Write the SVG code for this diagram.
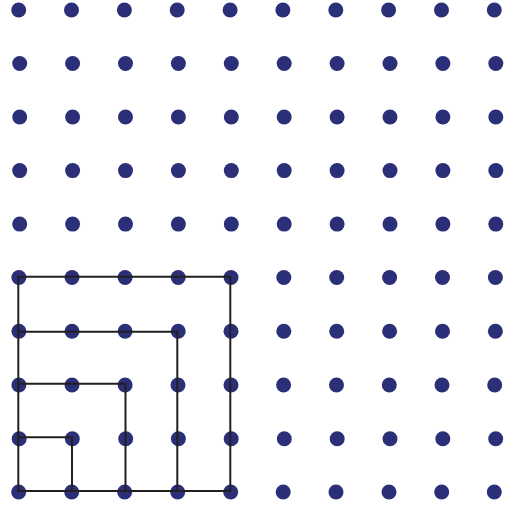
<svg xmlns="http://www.w3.org/2000/svg" width="507" height="510" viewBox="0 0 507 510">
<style>
.d{fill:#2a2f78}
.l{fill:none;stroke:#231f20;stroke-width:2}
</style>
<defs>
<circle id="c" r="7.5" class="d"/>
</defs>
<rect width="507" height="510" fill="#fff"/>
<g id="dots">
<g id="row0"><use href="#c" x="18.7" y="10"/><use href="#c" x="71.5" y="10"/><use href="#c" x="124.4" y="10"/><use href="#c" x="177.2" y="10"/><use href="#c" x="230.1" y="10"/><use href="#c" x="282.9" y="10"/><use href="#c" x="335.8" y="10"/><use href="#c" x="388.6" y="10"/><use href="#c" x="441.5" y="10"/><use href="#c" x="494.3" y="10"/></g>
<g id="row1"><use href="#c" x="19.7" y="63.5"/><use href="#c" x="72.6" y="63.5"/><use href="#c" x="125.5" y="63.5"/><use href="#c" x="178.4" y="63.5"/><use href="#c" x="231.3" y="63.5"/><use href="#c" x="284.2" y="63.5"/><use href="#c" x="337.1" y="63.5"/><use href="#c" x="390" y="63.5"/><use href="#c" x="442.9" y="63.5"/><use href="#c" x="495.8" y="63.5"/></g>
<g id="row2"><use href="#c" x="19.7" y="117"/><use href="#c" x="72.6" y="117"/><use href="#c" x="125.5" y="117"/><use href="#c" x="178.4" y="117"/><use href="#c" x="231.3" y="117"/><use href="#c" x="284.2" y="117"/><use href="#c" x="337.1" y="117"/><use href="#c" x="390" y="117"/><use href="#c" x="442.9" y="117"/><use href="#c" x="495.8" y="117"/></g>
<g id="row3"><use href="#c" x="19.7" y="170.6"/><use href="#c" x="72.6" y="170.6"/><use href="#c" x="125.5" y="170.6"/><use href="#c" x="178.4" y="170.6"/><use href="#c" x="231.3" y="170.6"/><use href="#c" x="284.2" y="170.6"/><use href="#c" x="337.1" y="170.6"/><use href="#c" x="390" y="170.6"/><use href="#c" x="442.9" y="170.6"/><use href="#c" x="495.8" y="170.6"/></g>
<g id="row4"><use href="#c" x="19.7" y="224.1"/><use href="#c" x="72.6" y="224.1"/><use href="#c" x="125.5" y="224.1"/><use href="#c" x="178.4" y="224.1"/><use href="#c" x="231.3" y="224.1"/><use href="#c" x="284.2" y="224.1"/><use href="#c" x="337.1" y="224.1"/><use href="#c" x="390" y="224.1"/><use href="#c" x="442.9" y="224.1"/><use href="#c" x="495.8" y="224.1"/></g>
<g id="row5"><use href="#c" x="18.9" y="277.5"/><use href="#c" x="72" y="277.5"/><use href="#c" x="125.1" y="277.5"/><use href="#c" x="178.2" y="277.5"/><use href="#c" x="231" y="277.5"/><use href="#c" x="283.8" y="277.5"/><use href="#c" x="336.7" y="277.5"/><use href="#c" x="389.6" y="277.5"/><use href="#c" x="442.5" y="277.5"/><use href="#c" x="495.4" y="277.5"/></g>
<g id="row6"><use href="#c" x="18.9" y="331.2"/><use href="#c" x="72" y="331.2"/><use href="#c" x="125.1" y="331.2"/><use href="#c" x="178.2" y="331.2"/><use href="#c" x="231" y="331.2"/><use href="#c" x="283.8" y="331.2"/><use href="#c" x="336.7" y="331.2"/><use href="#c" x="389.6" y="331.2"/><use href="#c" x="442.5" y="331.2"/><use href="#c" x="495.4" y="331.2"/></g>
<g id="row7"><use href="#c" x="18.9" y="385"/><use href="#c" x="72" y="385"/><use href="#c" x="125.1" y="385"/><use href="#c" x="178" y="385"/><use href="#c" x="231" y="385"/><use href="#c" x="283.6" y="385"/><use href="#c" x="336.5" y="385"/><use href="#c" x="389.3" y="385"/><use href="#c" x="442" y="385"/><use href="#c" x="494.7" y="385"/></g>
<g id="row8"><use href="#c" x="19.2" y="438.8"/><use href="#c" x="72.3" y="438.8"/><use href="#c" x="125.7" y="438.8"/><use href="#c" x="178.4" y="438.8"/><use href="#c" x="231.2" y="438.8"/><use href="#c" x="284.3" y="438.8"/><use href="#c" x="337.2" y="438.8"/><use href="#c" x="390" y="438.8"/><use href="#c" x="442.8" y="438.8"/><use href="#c" x="495.7" y="438.8"/></g>
<g id="row9"><use href="#c" x="18.7" y="492"/><use href="#c" x="71.7" y="492"/><use href="#c" x="124.7" y="492"/><use href="#c" x="177.7" y="492"/><use href="#c" x="230.7" y="492"/><use href="#c" x="283.2" y="492"/><use href="#c" x="336" y="492"/><use href="#c" x="389" y="492"/><use href="#c" x="441.7" y="492"/><use href="#c" x="494.3" y="492"/></g>
</g>
<g id="connectors">
<path class="l" d="M18.3 491V276.8H230.3V491H18.3Z"/>
<path class="l" d="M18.3 331.7H177.3V491"/>
<path class="l" d="M18.3 383.8H125.5V491"/>
<path class="l" d="M18.3 437.3H72V491"/>
</g>
</svg>
